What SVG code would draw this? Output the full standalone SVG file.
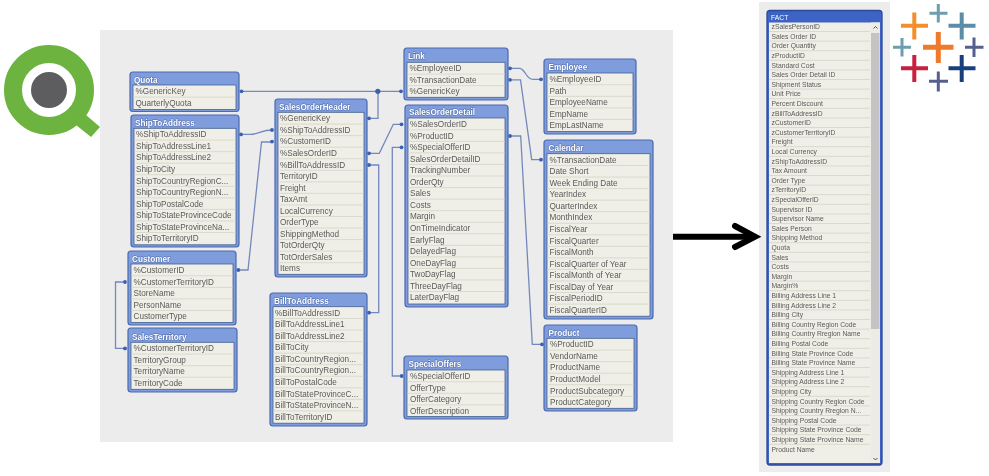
<svg xmlns="http://www.w3.org/2000/svg" width="989" height="476" viewBox="0 0 989 476">
<defs><filter id="b" x="-5%" y="-5%" width="110%" height="110%"><feGaussianBlur stdDeviation="0.28"/></filter></defs>
<style>
.bg{fill:#ececec}
.o{fill:#7f9cdc;stroke:#4a69b0;stroke-width:1.2}
.l{fill:#f0efe7;stroke:#44608f;stroke-width:.8}
.s{fill:none;stroke:#d9d9cc;stroke-width:1}
.t{font:bold 8.2px "Liberation Sans",Arial,sans-serif;fill:#fff;stroke:#4f6cb0;stroke-width:.9px;paint-order:stroke;filter:url(#b)}
.r{font:8.2px "Liberation Sans",Arial,sans-serif;fill:#5a5a5a;filter:url(#b)}
.f{font:6.75px "Liberation Sans",Arial,sans-serif;fill:#5a5a5a;filter:url(#b)}
.c{fill:none;stroke:#7488bb;stroke-width:1.3}
.d{fill:#3a5fb4}
.q{fill:#6db33f}
</style>
<rect class="bg" x="100" y="30" width="573" height="412"/>
<rect class="bg" x="759" y="2" width="131" height="470"/>
<g id="qlik-logo">
<polygon class="q" points="86,115 100,127 91,137 76,125"/>
<circle cx="49" cy="90" r="36" fill="#fff" stroke="#6db33f" stroke-width="18"/>
<circle cx="49" cy="90" r="18" fill="#5d5d60"/>
</g>
<g id="connectors">
<path class="c" d="M241.500 91.300H401"/>
<path class="c" d="M369 118.300H378V91.300"/>
<path class="c" d="M241 134.400H250C258 134.400 262 130 272 130"/>
<path class="c" d="M238.300 270H248L261.500 142H272"/>
<path class="c" d="M125 282H115.500V348.400H125"/>
<path class="c" d="M369 153.300H379.300L393.300 124.300H401.500"/>
<path class="c" d="M369 165H378.700V312.700H369"/>
<path class="c" d="M401.500 147.300H392.300V376H401.700"/>
<path class="c" d="M510 136H520.700L532.300 344.300H542"/>
<path class="c" d="M510 68.300H520C526 70 526 79.300 533 79.300H541"/>
<path class="c" d="M510 79.800H520.500L531.700 159.700H541"/>
<g class="d">
<circle cx="241.500" cy="91.300" r="1.900"/><circle cx="377.800" cy="91.300" r="2.600"/><circle cx="401" cy="91.300" r="1.900"/><circle cx="369" cy="118.300" r="1.900"/>
<circle cx="241" cy="134.400" r="1.900"/><circle cx="272" cy="130" r="1.900"/><circle cx="238.300" cy="270" r="1.900"/><circle cx="272" cy="141.600" r="1.900"/>
<circle cx="125" cy="282" r="1.900"/><circle cx="125" cy="348.400" r="1.900"/><circle cx="369" cy="153.300" r="1.900"/><circle cx="401.500" cy="124.300" r="1.900"/>
<circle cx="369" cy="165" r="1.900"/><circle cx="369" cy="312.700" r="1.900"/><circle cx="401.500" cy="147.300" r="1.900"/><circle cx="401.700" cy="376" r="1.900"/>
<circle cx="510" cy="136" r="1.900"/><circle cx="542" cy="344.300" r="1.900"/><circle cx="510" cy="68.300" r="1.900"/><circle cx="541" cy="79.300" r="1.900"/>
<circle cx="510" cy="79.800" r="1.900"/><circle cx="541" cy="159.700" r="1.900"/>
</g>
</g>
<g id="Quota">
<rect class="o" x="130" y="72" width="109" height="39.500" rx="3"/><rect class="l" x="133" y="85" width="103" height="24.500"/>
<path class="s" d="M133.500 97.100h102"/>
<text class="t" x="134" y="82.500">Quota</text>
<text class="r"><tspan x="135.500" y="94.300">%GenericKey</tspan><tspan x="135.500" dy="11.550">QuarterlyQuota</tspan></text>
</g>
<g id="ShipToAddress">
<rect class="o" x="131" y="115" width="108" height="132" rx="3"/><rect class="l" x="134" y="128.300" width="102" height="116.500"/>
<path class="s" d="M134.500 140.100h101m-101 11.550h101m-101 11.550h101m-101 11.550h101m-101 11.550h101m-101 11.550h101m-101 11.550h101m-101 11.550h101m-101 11.550h101"/>
<text class="t" x="135" y="125.500">ShipToAddress</text>
<text class="r"><tspan x="136" y="137.300">%ShipToAddressID</tspan><tspan x="136" dy="11.550">ShipToAddressLine1</tspan><tspan x="136" dy="11.550">ShipToAddressLine2</tspan><tspan x="136" dy="11.550">ShipToCity</tspan><tspan x="136" dy="11.550">ShipToCountryRegionC...</tspan><tspan x="136" dy="11.550">ShipToCountryRegionN...</tspan><tspan x="136" dy="11.550">ShipToPostalCode</tspan><tspan x="136" dy="11.550">ShipToStateProvinceCode</tspan><tspan x="136" dy="11.550">ShipToStateProvinceNa...</tspan><tspan x="136" dy="11.550">ShipToTerritoryID</tspan></text>
</g>
<g id="Customer">
<rect class="o" x="128" y="251" width="108" height="74" rx="3"/><rect class="l" x="131" y="264" width="102" height="58.500"/>
<path class="s" d="M131.500 275.800h101m-101 11.550h101m-101 11.550h101m-101 11.550h101"/>
<text class="t" x="132" y="261.500">Customer</text>
<text class="r"><tspan x="133.500" y="273">%CustomerID</tspan><tspan x="133.500" dy="11.550">%CustomerTerritoryID</tspan><tspan x="133.500" dy="11.550">StoreName</tspan><tspan x="133.500" dy="11.550">PersonName</tspan><tspan x="133.500" dy="11.550">CustomerType</tspan></text>
</g>
<g id="SalesTerritory">
<rect class="o" x="128" y="328" width="109" height="64" rx="3"/><rect class="l" x="131" y="342.300" width="103" height="47"/>
<path class="s" d="M131.500 354.100h102m-102 11.550h102m-102 11.550h102"/>
<text class="t" x="132" y="340">SalesTerritory</text>
<text class="r"><tspan x="133.500" y="351.300">%CustomerTerritoryID</tspan><tspan x="133.500" dy="11.550">TerritoryGroup</tspan><tspan x="133.500" dy="11.550">TerritoryName</tspan><tspan x="133.500" dy="11.550">TerritoryCode</tspan></text>
</g>
<g id="BillToAddress">
<rect class="o" x="270" y="293" width="97" height="133" rx="3"/><rect class="l" x="273" y="306.700" width="91" height="116.500"/>
<path class="s" d="M273.500 318.500h90m-90 11.550h90m-90 11.550h90m-90 11.550h90m-90 11.550h90m-90 11.550h90m-90 11.550h90m-90 11.550h90m-90 11.550h90"/>
<text class="t" x="274" y="304.300">BillToAddress</text>
<text class="r"><tspan x="275" y="315.700">%BillToAddressID</tspan><tspan x="275" dy="11.550">BillToAddressLine1</tspan><tspan x="275" dy="11.550">BillToAddressLine2</tspan><tspan x="275" dy="11.550">BillToCity</tspan><tspan x="275" dy="11.550">BillToCountryRegion...</tspan><tspan x="275" dy="11.550">BillToCountryRegion...</tspan><tspan x="275" dy="11.550">BillToPostalCode</tspan><tspan x="275" dy="11.550">BillToStateProvinceC...</tspan><tspan x="275" dy="11.550">BillToStateProvinceN...</tspan><tspan x="275" dy="11.550">BillToTerritoryID</tspan></text>
</g>
<g id="SalesOrderHeader">
<rect class="o" x="275" y="99" width="92" height="178" rx="3"/><rect class="l" x="278" y="112.300" width="86" height="162"/>
<path class="s" d="M278.500 124.100h85m-85 11.550h85m-85 11.550h85m-85 11.550h85m-85 11.550h85m-85 11.550h85m-85 11.550h85m-85 11.550h85m-85 11.550h85m-85 11.550h85m-85 11.550h85m-85 11.550h85m-85 11.550h85"/>
<text class="t" x="279" y="109.700">SalesOrderHeader</text>
<text class="r"><tspan x="280" y="121.300">%GenericKey</tspan><tspan x="280" dy="11.550">%ShipToAddressID</tspan><tspan x="280" dy="11.550">%CustomerID</tspan><tspan x="280" dy="11.550">%SalesOrderID</tspan><tspan x="280" dy="11.550">%BillToAddressID</tspan><tspan x="280" dy="11.550">TerritoryID</tspan><tspan x="280" dy="11.550">Freight</tspan><tspan x="280" dy="11.550">TaxAmt</tspan><tspan x="280" dy="11.550">LocalCurrency</tspan><tspan x="280" dy="11.550">OrderType</tspan><tspan x="280" dy="11.550">ShippingMethod</tspan><tspan x="280" dy="11.550">TotOrderQty</tspan><tspan x="280" dy="11.550">TotOrderSales</tspan><tspan x="280" dy="11.550">Items</tspan></text>
</g>
<g id="Link">
<rect class="o" x="404" y="48" width="104" height="52" rx="3"/><rect class="l" x="407" y="62.300" width="98" height="35"/>
<path class="s" d="M407.500 74.100h97m-97 11.550h97"/>
<text class="t" x="408" y="59.300">Link</text>
<text class="r"><tspan x="409.500" y="71.300">%EmployeeID</tspan><tspan x="409.500" dy="11.550">%TransactionDate</tspan><tspan x="409.500" dy="11.550">%GenericKey</tspan></text>
</g>
<g id="SalesOrderDetail">
<rect class="o" x="405" y="105" width="103" height="202" rx="3"/><rect class="l" x="408" y="118" width="97" height="186"/>
<path class="s" d="M408.500 129.800h96m-96 11.550h96m-96 11.550h96m-96 11.550h96m-96 11.550h96m-96 11.550h96m-96 11.550h96m-96 11.550h96m-96 11.550h96m-96 11.550h96m-96 11.550h96m-96 11.550h96m-96 11.550h96m-96 11.550h96m-96 11.550h96"/>
<text class="t" x="409" y="115.300">SalesOrderDetail</text>
<text class="r"><tspan x="410" y="127">%SalesOrderID</tspan><tspan x="410" dy="11.550">%ProductID</tspan><tspan x="410" dy="11.550">%SpecialOfferID</tspan><tspan x="410" dy="11.550">SalesOrderDetailID</tspan><tspan x="410" dy="11.550">TrackingNumber</tspan><tspan x="410" dy="11.550">OrderQty</tspan><tspan x="410" dy="11.550">Sales</tspan><tspan x="410" dy="11.550">Costs</tspan><tspan x="410" dy="11.550">Margin</tspan><tspan x="410" dy="11.550">OnTimeIndicator</tspan><tspan x="410" dy="11.550">EarlyFlag</tspan><tspan x="410" dy="11.550">DelayedFlag</tspan><tspan x="410" dy="11.550">OneDayFlag</tspan><tspan x="410" dy="11.550">TwoDayFlag</tspan><tspan x="410" dy="11.550">ThreeDayFlag</tspan><tspan x="410" dy="11.550">LaterDayFlag</tspan></text>
</g>
<g id="SpecialOffers">
<rect class="o" x="404" y="356" width="104" height="63" rx="3"/><rect class="l" x="407" y="370" width="98" height="46.500"/>
<path class="s" d="M407.500 381.800h97m-97 11.550h97m-97 11.550h97"/>
<text class="t" x="408.500" y="367">SpecialOffers</text>
<text class="r"><tspan x="410" y="379">%SpecialOfferID</tspan><tspan x="410" dy="11.550">OfferType</tspan><tspan x="410" dy="11.550">OfferCategory</tspan><tspan x="410" dy="11.550">OfferDescription</tspan></text>
</g>
<g id="Employee">
<rect class="o" x="544" y="59" width="92" height="75" rx="3"/><rect class="l" x="547" y="73" width="86" height="58.500"/>
<path class="s" d="M547.500 84.800h85m-85 11.550h85m-85 11.550h85m-85 11.550h85"/>
<text class="t" x="548.500" y="70.300">Employee</text>
<text class="r"><tspan x="549.500" y="82">%EmployeeID</tspan><tspan x="549.500" dy="11.550">Path</tspan><tspan x="549.500" dy="11.550">EmployeeName</tspan><tspan x="549.500" dy="11.550">EmpName</tspan><tspan x="549.500" dy="11.550">EmpLastName</tspan></text>
</g>
<g id="Calendar">
<rect class="o" x="544" y="140" width="109" height="179" rx="3"/><rect class="l" x="547" y="153.700" width="103" height="162.500"/>
<path class="s" d="M547.500 165.500h102m-102 11.550h102m-102 11.550h102m-102 11.550h102m-102 11.550h102m-102 11.550h102m-102 11.550h102m-102 11.550h102m-102 11.550h102m-102 11.550h102m-102 11.550h102m-102 11.550h102m-102 11.550h102"/>
<text class="t" x="548.500" y="151">Calendar</text>
<text class="r"><tspan x="549.500" y="162.700">%TransactionDate</tspan><tspan x="549.500" dy="11.550">Date Short</tspan><tspan x="549.500" dy="11.550">Week Ending Date</tspan><tspan x="549.500" dy="11.550">YearIndex</tspan><tspan x="549.500" dy="11.550">QuarterIndex</tspan><tspan x="549.500" dy="11.550">MonthIndex</tspan><tspan x="549.500" dy="11.550">FiscalYear</tspan><tspan x="549.500" dy="11.550">FiscalQuarter</tspan><tspan x="549.500" dy="11.550">FiscalMonth</tspan><tspan x="549.500" dy="11.550">FiscalQuarter of Year</tspan><tspan x="549.500" dy="11.550">FiscalMonth of Year</tspan><tspan x="549.500" dy="11.550">FiscalDay of Year</tspan><tspan x="549.500" dy="11.550">FiscalPeriodID</tspan><tspan x="549.500" dy="11.550">FiscalQuarterID</tspan></text>
</g>
<g id="Product">
<rect class="o" x="544" y="325" width="93" height="86" rx="3"/><rect class="l" x="547" y="338.300" width="87" height="70"/>
<path class="s" d="M547.500 350.100h86m-86 11.550h86m-86 11.550h86m-86 11.550h86m-86 11.550h86"/>
<text class="t" x="548.500" y="335.600">Product</text>
<text class="r"><tspan x="550" y="347.300">%ProductID</tspan><tspan x="550" dy="11.550">VendorName</tspan><tspan x="550" dy="11.550">ProductName</tspan><tspan x="550" dy="11.550">ProductModel</tspan><tspan x="550" dy="11.550">ProductSubcategory</tspan><tspan x="550" dy="11.550">ProductCategory</tspan></text>
</g>
<g id="arrow" fill="none" stroke="#000" stroke-width="6" stroke-linecap="round" stroke-linejoin="miter">
<path d="M673 236.700H753" stroke-linecap="butt"/><path d="M735 226L755 236.700L735 247"/>
</g>
<g id="FACT">
<rect x="767" y="10.500" width="115" height="454.500" rx="3" fill="#3d63c4" stroke="#2c4a9c" stroke-width="1.300"/>
<rect x="769" y="22.500" width="111" height="440.500" fill="#f0efe7"/>
<rect x="871" y="22.500" width="9" height="440.500" fill="#ecebe6"/>
<rect x="871" y="33" width="8.500" height="296" fill="#c4c4c4"/>
<path d="M873.500 28.500l2-2l2 2M873.500 458l2 2l2-2" fill="none" stroke="#555" stroke-width="1"/>
<path class="s" d="M769 31.500h101m-101 9.600h101m-101 9.600h101m-101 9.600h101m-101 9.600h101m-101 9.600h101m-101 9.600h101m-101 9.600h101m-101 9.600h101m-101 9.600h101m-101 9.600h101m-101 9.600h101m-101 9.600h101m-101 9.600h101m-101 9.600h101m-101 9.600h101m-101 9.600h101m-101 9.600h101m-101 9.600h101m-101 9.600h101m-101 9.600h101m-101 9.600h101m-101 9.600h101m-101 9.600h101m-101 9.600h101m-101 9.600h101m-101 9.600h101m-101 9.600h101m-101 9.600h101m-101 9.600h101m-101 9.600h101m-101 9.600h101m-101 9.600h101m-101 9.600h101m-101 9.600h101m-101 9.600h101m-101 9.600h101m-101 9.600h101m-101 9.600h101m-101 9.600h101m-101 9.600h101m-101 9.600h101m-101 9.600h101m-101 9.600h101"/>
<text class="f" x="771" y="19.500" style="fill:#fff">FACT</text>
<text class="f"><tspan x="771.500" y="29.200">zSalesPersonID</tspan><tspan x="771.500" dy="9.600">Sales Order ID</tspan><tspan x="771.500" dy="9.600">Order Quantity</tspan><tspan x="771.500" dy="9.600">zProductID</tspan><tspan x="771.500" dy="9.600">Standard Cost</tspan><tspan x="771.500" dy="9.600">Sales Order Detail ID</tspan><tspan x="771.500" dy="9.600">Shipment Status</tspan><tspan x="771.500" dy="9.600">Unit Price</tspan><tspan x="771.500" dy="9.600">Percent Discount</tspan><tspan x="771.500" dy="9.600">zBillToAddressID</tspan><tspan x="771.500" dy="9.600">zCustomerID</tspan><tspan x="771.500" dy="9.600">zCustomerTerritoryID</tspan><tspan x="771.500" dy="9.600">Freight</tspan><tspan x="771.500" dy="9.600">Local Currency</tspan><tspan x="771.500" dy="9.600">zShipToAddressID</tspan><tspan x="771.500" dy="9.600">Tax Amount</tspan><tspan x="771.500" dy="9.600">Order Type</tspan><tspan x="771.500" dy="9.600">zTerritoryID</tspan><tspan x="771.500" dy="9.600">zSpecialOfferID</tspan><tspan x="771.500" dy="9.600">Supervisor ID</tspan><tspan x="771.500" dy="9.600">Supervisor Name</tspan><tspan x="771.500" dy="9.600">Sales Person</tspan><tspan x="771.500" dy="9.600">Shipping Method</tspan><tspan x="771.500" dy="9.600">Quota</tspan><tspan x="771.500" dy="9.600">Sales</tspan><tspan x="771.500" dy="9.600">Costs</tspan><tspan x="771.500" dy="9.600">Margin</tspan><tspan x="771.500" dy="9.600">Margin%</tspan><tspan x="771.500" dy="9.600">Billing Address Line 1</tspan><tspan x="771.500" dy="9.600">Billing Address Line 2</tspan><tspan x="771.500" dy="9.600">Billing City</tspan><tspan x="771.500" dy="9.600">Billing Country Region Code</tspan><tspan x="771.500" dy="9.600">Billing Country Rregion Name</tspan><tspan x="771.500" dy="9.600">Billing Postal Code</tspan><tspan x="771.500" dy="9.600">Billing State Province Code</tspan><tspan x="771.500" dy="9.600">Billing State Province Name</tspan><tspan x="771.500" dy="9.600">Shipping Address Line 1</tspan><tspan x="771.500" dy="9.600">Shipping Address Line 2</tspan><tspan x="771.500" dy="9.600">Shipping City</tspan><tspan x="771.500" dy="9.600">Shipping Country Region Code</tspan><tspan x="771.500" dy="9.600">Shipping Country Rregion N...</tspan><tspan x="771.500" dy="9.600">Shipping Postal Code</tspan><tspan x="771.500" dy="9.600">Shipping State Province Code</tspan><tspan x="771.500" dy="9.600">Shipping State Province Name</tspan><tspan x="771.500" dy="9.600">Product Name</tspan></text>
</g>
<g id="tableau-logo" fill="none">
<path d="M901 25.700h27M914.300 12.500v27" stroke="#f28e2b" stroke-width="4"/>
<path d="M929.500 13.300h18M938.300 4v18.500" stroke="#6f9db0" stroke-width="3"/>
<path d="M948.500 25.700h27M961.700 12.500v27" stroke="#5b8ea6" stroke-width="4"/>
<path d="M893 47.300h18M902 38v18.500" stroke="#6f9db0" stroke-width="3"/>
<path d="M923 47.300h30.500M938.300 32v31" stroke="#ee7a2c" stroke-width="5"/>
<path d="M965 47.300h18.500M974 37.500v19.500" stroke="#55608f" stroke-width="3"/>
<path d="M901 68.300h27M914.300 55v27" stroke="#c8203f" stroke-width="4"/>
<path d="M948.500 68.300h27M961.700 55v27" stroke="#1a3f7d" stroke-width="4"/>
<path d="M929 81.300h19M938.300 71.500v20" stroke="#55608f" stroke-width="3"/>
</g>
</svg>
